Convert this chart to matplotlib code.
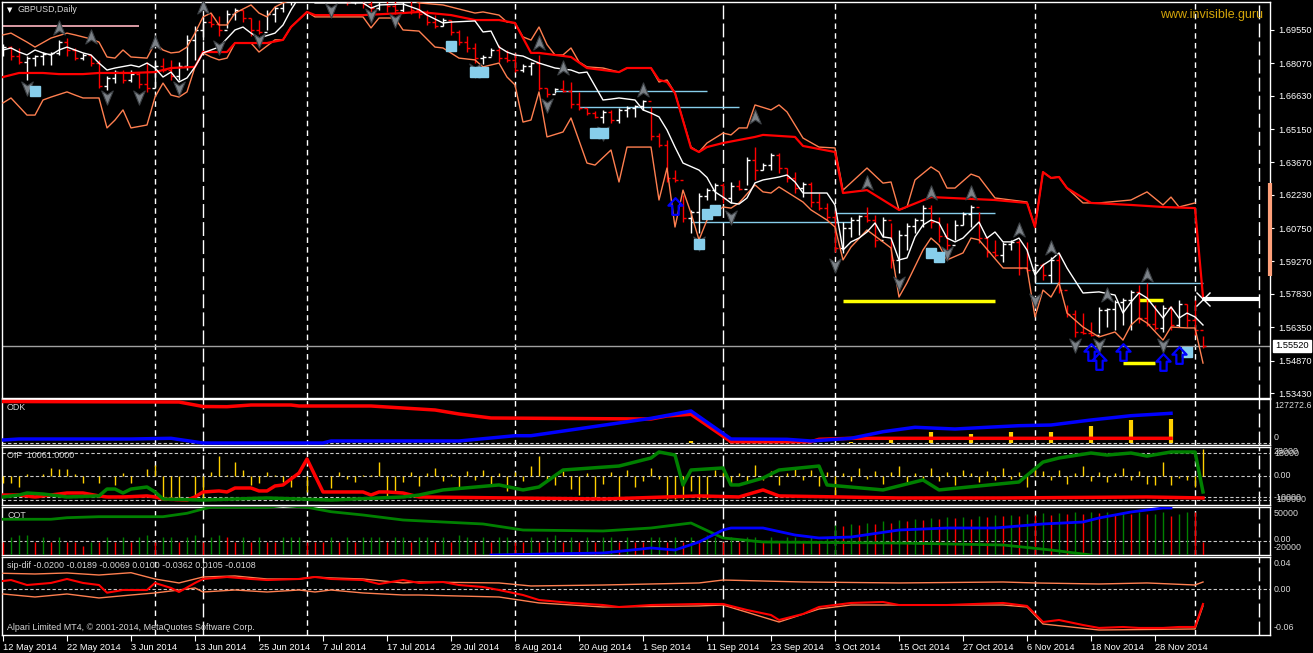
import numpy as np
import matplotlib
matplotlib.use('Agg')
import matplotlib.pyplot as plt
from matplotlib.path import Path

W, H = 1313, 653
plt.rcParams['font.family'] = ['Liberation Sans', 'DejaVu Sans']
FS = 6.4

# ---------------- data ----------------
dates = ['12 May 2014', '22 May 2014', '3 Jun 2014', '13 Jun 2014', '25 Jun 2014', '7 Jul 2014',
         '17 Jul 2014', '29 Jul 2014', '8 Aug 2014', '20 Aug 2014', '1 Sep 2014', '11 Sep 2014',
         '23 Sep 2014', '3 Oct 2014', '15 Oct 2014', '27 Oct 2014', '6 Nov 2014', '18 Nov 2014',
         '28 Nov 2014']
date_bars = [0, 8, 16, 24, 32, 40, 48, 56, 64, 72, 80, 88, 96, 104, 112, 120, 128, 136, 144]

price_ticks = [1.69550, 1.68070, 1.66630, 1.65150, 1.63670, 1.62230, 1.60750, 1.59270,
               1.57830, 1.56350, 1.54870, 1.53430]
bid = 1.55520

# daily bars (high / low / close), open taken as previous close
bar_hi = [1.6893, 1.6884, 1.6875, 1.6839, 1.6844, 1.6857, 1.6857, 1.6910, 1.6919, 1.6875,
          1.6853, 1.6844, 1.6822, 1.6751, 1.6777, 1.6777, 1.6777, 1.6768, 1.6813, 1.6822,
          1.6831, 1.6822, 1.6813, 1.6933, 1.6973, 1.7008, 1.7030, 1.7017, 1.7044, 1.7053,
          1.7044, 1.7008, 1.6999, 1.7044, 1.7061, 1.7110, 1.7155, 1.7168, 1.7199, 1.7186,
          1.7155, 1.7177, 1.7168, 1.7141, 1.7155, 1.7141, 1.7110, 1.7132, 1.7124, 1.7097,
          1.7110, 1.7101, 1.7079, 1.7044, 1.7021, 1.7008, 1.6999, 1.6955, 1.6928, 1.6897,
          1.6844, 1.6875, 1.6888, 1.6866, 1.6853, 1.6804, 1.6813, 1.6844, 1.6697, 1.6697,
          1.6733, 1.6724, 1.6680, 1.6609, 1.6595, 1.6600, 1.6600, 1.6609, 1.6617, 1.6622,
          1.6644, 1.6613, 1.6498, 1.6466, 1.6333, 1.6222, 1.6156, 1.6231, 1.6253, 1.6275,
          1.6275, 1.6280, 1.6289, 1.6391, 1.6435, 1.6364, 1.6409, 1.6409, 1.6342, 1.6324,
          1.6280, 1.6280, 1.6231, 1.6187, 1.6156, 1.6102, 1.6125, 1.6133, 1.6169, 1.6133,
          1.6125, 1.6098, 1.6067, 1.6098, 1.6120, 1.6178, 1.6178, 1.6125, 1.6098, 1.6111,
          1.6147, 1.6178, 1.6147, 1.6036, 1.6022, 1.6014, 1.6022, 1.6022, 1.6014, 1.5920,
          1.5920, 1.5947, 1.5965, 1.5734, 1.5712, 1.5698, 1.5658, 1.5725, 1.5720, 1.5756,
          1.5765, 1.5800, 1.5823, 1.5832, 1.5734, 1.5734, 1.5729, 1.5756, 1.5738, 1.5756,
          1.5596]
bar_lo = [1.6839, 1.6822, 1.6804, 1.6733, 1.6795, 1.6799, 1.6799, 1.6844, 1.6839, 1.6822,
          1.6822, 1.6795, 1.6697, 1.6688, 1.6719, 1.6719, 1.6724, 1.6697, 1.6680, 1.6697,
          1.6768, 1.6733, 1.6733, 1.6777, 1.6822, 1.6910, 1.6968, 1.6928, 1.6964, 1.6999,
          1.6990, 1.6928, 1.6937, 1.6955, 1.6990, 1.7035, 1.7066, 1.7097, 1.7110, 1.7110,
          1.7088, 1.7097, 1.7088, 1.7066, 1.7070, 1.7053, 1.7035, 1.7044, 1.7035, 1.7026,
          1.7035, 1.7026, 1.7008, 1.6977, 1.6964, 1.6973, 1.6933, 1.6888, 1.6857, 1.6808,
          1.6804, 1.6839, 1.6813, 1.6813, 1.6768, 1.6768, 1.6755, 1.6688, 1.6657, 1.6675,
          1.6680, 1.6609, 1.6600, 1.6577, 1.6564, 1.6542, 1.6542, 1.6542, 1.6569, 1.6569,
          1.6600, 1.6466, 1.6435, 1.6280, 1.6280, 1.6102, 1.6053, 1.6053, 1.6200, 1.6200,
          1.6187, 1.6187, 1.6244, 1.6267, 1.6289, 1.6333, 1.6333, 1.6320, 1.6280, 1.6231,
          1.6213, 1.6169, 1.6156, 1.6111, 1.5969, 1.5965, 1.6036, 1.6045, 1.6102, 1.5991,
          1.6036, 1.5898, 1.5876, 1.5978, 1.6053, 1.6080, 1.6076, 1.6014, 1.5978, 1.6022,
          1.6089, 1.6080, 1.6009, 1.5947, 1.5947, 1.5925, 1.5978, 1.5867, 1.5880, 1.5832,
          1.5845, 1.5832, 1.5787, 1.5681, 1.5592, 1.5605, 1.5596, 1.5610, 1.5636, 1.5623,
          1.5645, 1.5623, 1.5654, 1.5641, 1.5623, 1.5614, 1.5623, 1.5636, 1.5636, 1.5601,
          1.5543]
bar_cl = [1.6879, 1.6839, 1.6813, 1.6831, 1.6839, 1.6848, 1.6853, 1.6902, 1.6866, 1.6831,
          1.6844, 1.6808, 1.6706, 1.6741, 1.6768, 1.6733, 1.6759, 1.6715, 1.6697, 1.6795,
          1.6777, 1.6751, 1.6795, 1.6910, 1.6955, 1.6990, 1.6981, 1.6955, 1.7026, 1.7044,
          1.7008, 1.6955, 1.6946, 1.7026, 1.7053, 1.7097, 1.7132, 1.7110, 1.7177, 1.7132,
          1.7110, 1.7155, 1.7124, 1.7079, 1.7132, 1.7070, 1.7053, 1.7110, 1.7061, 1.7044,
          1.7088, 1.7044, 1.7026, 1.6990, 1.6973, 1.6999, 1.6946, 1.6902, 1.6875, 1.6831,
          1.6835, 1.6866, 1.6831, 1.6822, 1.6777, 1.6795, 1.6808, 1.6697, 1.6671, 1.6693,
          1.6684, 1.6626, 1.6609, 1.6586, 1.6569, 1.6591, 1.6555, 1.6600, 1.6609, 1.6617,
          1.6640, 1.6484, 1.6444, 1.6298, 1.6289, 1.6120, 1.6147, 1.6218, 1.6244, 1.6267,
          1.6209, 1.6262, 1.6249, 1.6378, 1.6333, 1.6355, 1.6400, 1.6342, 1.6298, 1.6253,
          1.6271, 1.6191, 1.6164, 1.6125, 1.5987, 1.6076, 1.6111, 1.6129, 1.6111, 1.6022,
          1.6111, 1.5934, 1.6045, 1.6085, 1.6111, 1.6164, 1.6102, 1.6040, 1.6000, 1.6089,
          1.6138, 1.6169, 1.6031, 1.5969, 1.5956, 1.6005, 1.6014, 1.5898, 1.5889, 1.5911,
          1.5867, 1.5934, 1.5800, 1.5694, 1.5614, 1.5610, 1.5601, 1.5712, 1.5716, 1.5747,
          1.5756, 1.5792, 1.5676, 1.5649, 1.5632, 1.5720, 1.5645, 1.5738, 1.5667, 1.5623,
          1.5552]

# white average line
mid_bar = [0, 1, 2, 3, 4, 5, 6, 7, 8, 10, 11, 12, 13, 14, 16, 17, 18, 19, 20, 21,
           22, 23, 24, 25, 26, 27, 29, 30, 31, 32, 34, 35, 36, 37, 38, 39, 45, 46, 47, 50,
           52, 53, 55, 56, 59, 60, 61, 62, 63, 64, 65, 67, 69, 71, 72, 73, 75, 76, 77, 79,
           80, 81, 82, 83, 84, 85, 87, 88, 89, 90, 91, 92, 93, 94, 95, 97, 98, 99, 100, 102,
           103, 104, 105, 106, 107, 108, 109, 110, 111, 112, 113, 114, 115, 116, 117, 118, 119, 120, 121, 122,
           123, 124, 125, 126, 127, 128, 129, 130, 131, 132, 133, 135, 137, 139, 140, 141, 142, 143, 145, 146,
           147, 148, 149, 150]
mid_val = [1.6866, 1.6875, 1.6857, 1.6844, 1.6866, 1.6853, 1.6844, 1.6866, 1.6879, 1.6853,
           1.6844, 1.6808, 1.6777, 1.6786, 1.6799, 1.6791, 1.6808, 1.6786, 1.6746, 1.6768,
           1.6724, 1.6742, 1.6791, 1.6853, 1.6866, 1.6879, 1.6955, 1.6968, 1.6941, 1.6919,
           1.6941, 1.6977, 1.7044, 1.7100, 1.7100, 1.7075, 1.7075, 1.7052, 1.7066, 1.7070,
           1.7045, 1.7021, 1.6986, 1.6990, 1.6995, 1.6946, 1.6950, 1.6879, 1.6857, 1.6844,
           1.6839, 1.6808, 1.6786, 1.6777, 1.6764, 1.6768, 1.6644, 1.6648, 1.6653, 1.6644,
           1.6600, 1.6586, 1.6569, 1.6511, 1.6435, 1.6364, 1.6333, 1.6300, 1.6236, 1.6213,
           1.6187, 1.6182, 1.6209, 1.6276, 1.6289, 1.6302, 1.6311, 1.6280, 1.6231, 1.6231,
           1.6231, 1.6178, 1.5978, 1.6014, 1.6031, 1.6058, 1.6098, 1.6036, 1.6031, 1.5934,
           1.5943, 1.6036, 1.6089, 1.6111, 1.6098, 1.6031, 1.6014, 1.6031, 1.6067, 1.6102,
           1.6031, 1.6058, 1.6014, 1.6014, 1.6031, 1.5978, 1.5867, 1.5911, 1.5934, 1.5965,
           1.5898, 1.5787, 1.5792, 1.5778, 1.5698, 1.5747, 1.5787, 1.5765, 1.5676, 1.5725,
           1.5676, 1.5698, 1.5681, 1.5645]

# orange upper envelope
up_bar = [0, 1, 3, 4, 6, 8, 9, 11, 12, 13, 14, 15, 16, 18, 19, 20, 21, 22, 23, 24,
          25, 26, 27, 28, 29, 31, 32, 33, 34, 35, 36, 37, 50, 52, 55, 56, 59, 60, 62, 63,
          64, 65, 66, 67, 68, 69, 70, 71, 72, 73, 75, 77, 78, 81, 82, 83, 84, 86, 87, 88,
          90, 91, 92, 93, 94, 96, 97, 98, 100, 102, 104, 105, 108, 110, 111, 112, 113, 114, 116, 117,
          118, 119, 121, 122, 124, 128, 129, 130, 131, 132, 133, 135, 137, 141, 143, 145, 146, 147, 149]
up_val = [1.6933, 1.6941, 1.6901, 1.6879, 1.6919, 1.6941, 1.6933, 1.6915, 1.6901, 1.6835,
          1.6830, 1.6866, 1.6835, 1.6830, 1.6897, 1.6866, 1.6853, 1.6857, 1.6879, 1.6941,
          1.7013, 1.7030, 1.6977, 1.6977, 1.7030, 1.7066, 1.7030, 1.7013, 1.7057, 1.7075,
          1.7088, 1.7120, 1.7110, 1.7075, 1.7066, 1.7057, 1.7030, 1.7035, 1.7021, 1.6990,
          1.6986, 1.6924, 1.6910, 1.6968, 1.6890, 1.6844, 1.6844, 1.6875, 1.6813, 1.6791,
          1.6786, 1.6768, 1.6786, 1.6786, 1.6724, 1.6733, 1.6675, 1.6435, 1.6413, 1.6453,
          1.6497, 1.6489, 1.6520, 1.6520, 1.6622, 1.6600, 1.6622, 1.6591, 1.6475, 1.6435,
          1.6431, 1.6244, 1.6342, 1.6275, 1.6280, 1.6156, 1.6169, 1.6289, 1.6347, 1.6324,
          1.6253, 1.6253, 1.6315, 1.6302, 1.6209, 1.6191, 1.6080, 1.6324, 1.6298, 1.6302,
          1.6253, 1.6187, 1.6187, 1.6200, 1.6236, 1.6178, 1.6213, 1.6169, 1.6187]

# red line
red_bar = [0, 2, 5, 7, 10, 12, 16, 19, 21, 24, 25, 28, 29, 31, 33, 35, 36, 38, 39, 45,
           50, 52, 56, 59, 62, 64, 66, 67, 69, 71, 73, 77, 78, 81, 82, 83, 84, 86, 87, 88,
           90, 94, 95, 99, 100, 104, 105, 108, 112, 116, 124, 128, 129, 130, 131, 132, 133, 136, 141, 145,
           149, 150]
red_val = [1.6746, 1.6764, 1.6764, 1.6759, 1.6759, 1.6764, 1.6764, 1.6768, 1.6786, 1.6791,
           1.6857, 1.6857, 1.6897, 1.6897, 1.6897, 1.6911, 1.6968, 1.7035, 1.7021, 1.7021,
           1.7030, 1.7035, 1.7021, 1.6999, 1.6999, 1.6986, 1.6853, 1.6853, 1.6844, 1.6835,
           1.6786, 1.6768, 1.6786, 1.6786, 1.6733, 1.6724, 1.6675, 1.6431, 1.6413, 1.6435,
           1.6453, 1.6480, 1.6489, 1.6480, 1.6440, 1.6413, 1.6231, 1.6244, 1.6156, 1.6213,
           1.6200, 1.6187, 1.6080, 1.6324, 1.6298, 1.6302, 1.6253, 1.6187, 1.6178, 1.6169,
           1.6164, 1.5770]

# orange lower envelope
lo_bar = [0, 1, 3, 4, 5, 6, 8, 9, 10, 12, 13, 14, 15, 16, 18, 19, 20, 21, 22, 23,
          24, 25, 26, 27, 28, 29, 31, 32, 34, 35, 36, 38, 39, 45, 46, 47, 49, 50, 52, 54,
          55, 57, 59, 60, 62, 63, 64, 65, 66, 67, 68, 70, 71, 73, 74, 76, 77, 78, 81, 82,
          83, 84, 85, 86, 87, 88, 90, 91, 92, 94, 95, 96, 97, 100, 101, 103, 104, 105, 106, 108,
          110, 111, 112, 113, 115, 116, 117, 118, 120, 121, 122, 125, 128, 129, 130, 131, 132, 133, 135, 137,
          139, 140, 141, 142, 143, 145, 146, 148, 149, 150]
lo_val = [1.6631, 1.6653, 1.6577, 1.6577, 1.6644, 1.6657, 1.6680, 1.6666, 1.6653, 1.6653,
          1.6520, 1.6555, 1.6600, 1.6520, 1.6533, 1.6657, 1.6719, 1.6666, 1.6657, 1.6680,
          1.6791, 1.6853, 1.6835, 1.6822, 1.6830, 1.6897, 1.6897, 1.6857, 1.6911, 1.6911,
          1.6968, 1.7035, 1.7013, 1.7013, 1.6964, 1.7008, 1.7008, 1.6955, 1.6950, 1.6879,
          1.6875, 1.6830, 1.6822, 1.6791, 1.6808, 1.6746, 1.6711, 1.6546, 1.6555, 1.6680,
          1.6480, 1.6502, 1.6564, 1.6364, 1.6355, 1.6422, 1.6280, 1.6435, 1.6435, 1.6200,
          1.6342, 1.6080, 1.6244, 1.6142, 1.6023, 1.6111, 1.6169, 1.6164, 1.6187, 1.6267,
          1.6236, 1.6231, 1.6258, 1.6191, 1.6156, 1.6111, 1.6080, 1.5934, 1.5991, 1.6067,
          1.6014, 1.5987, 1.5769, 1.5832, 1.5978, 1.6031, 1.6000, 1.5934, 1.5965, 1.6031,
          1.6023, 1.5898, 1.5898, 1.5681, 1.5800, 1.5769, 1.5832, 1.5698, 1.5636, 1.5592,
          1.5614, 1.5578, 1.5645, 1.5676, 1.5654, 1.5578, 1.5636, 1.5632, 1.5632, 1.5476]

# signal markers
arr_up_bar = [7, 11, 19, 25, 67, 70, 80, 94, 108, 116, 121, 127, 131, 138, 143]
arr_up_val = [1.6964, 1.6924, 1.6897, 1.7057, 1.6897, 1.6786, 1.6688, 1.6569, 1.6275, 1.6231,
              1.6231, 1.6067, 1.5987, 1.5778, 1.5867]
arr_dn_bar = [3, 13, 17, 22, 27, 32, 41, 46, 49, 59, 68, 75, 87, 91, 104, 112, 118, 129, 134, 137, 145]
arr_dn_val = [1.6697, 1.6657, 1.6657, 1.6697, 1.6879, 1.6911, 1.7044, 1.7021, 1.6999, 1.6777,
              1.6622, 1.6497, 1.6009, 1.6125, 1.5911, 1.5832, 1.5965, 1.5756, 1.5556, 1.5556, 1.5556]
sq_bar = [4, 56, 59, 60, 74, 75, 87, 88, 89, 116, 117, 148]
sq_val = [1.6684, 1.6884, 1.6768, 1.6768, 1.6497, 1.6497, 1.6003, 1.6138, 1.6156, 1.5965, 1.5947, 1.5523]
blue_bar = [84, 136, 137, 140, 145, 147]
blue_val = [1.6173, 1.5525, 1.5485, 1.5525, 1.5481, 1.5512]

# horizontal levels: (start bar, end bar, price)
lb_levels = [(69, 88, 1.6684), (72, 92, 1.6613), (86, 106, 1.6102), (104, 124, 1.6142), (129, 150, 1.5832)]
yel_levels = [(105, 124, 1.5752), (142, 145, 1.5756), (140, 144, 1.5476)]
pink_level = (0, 17, 1.6973)
white_level = (150, 157, 1.5760)
range_hi, range_lo = 1.6276, 1.5861

sep_short = [19, 38, 64, 104, 129, 149]
sep_long = [25, 90, 157]

# ODK
odk_red_bar = [0, 22, 25, 28, 31, 36, 37, 46, 50, 54, 57, 61, 81, 83, 86, 91, 101, 102, 106, 146]
odk_red_val = [125700, 124200, 110600, 110000, 115100, 115100, 112100, 112100, 106000, 100000,
               87900, 75750, 72700, 81800, 87000, 3900, 3900, 11200, 14200, 14200]
odk_blu_bar = [0, 2, 16, 21, 25, 40, 41, 57, 64, 66, 81, 86, 91, 98, 101, 106, 110, 114, 119, 123,
               127, 131, 136, 141, 146]
odk_blu_val = [9090, 12100, 12100, 14200, 0, 0, 6060, 6060, 22100, 22100, 74800, 97000, 12100, 11200,
               6060, 14200, 34200, 47600, 42400, 47600, 52400, 54500, 69700, 82700, 90000]
odk_yel_bar = [6, 11, 31, 41, 51, 61, 66, 86, 91, 96, 106, 111, 116, 121, 126, 131, 136, 141, 146]
odk_yel_val = [1500, 1500, 1500, 1500, 1500, 1500, 1500, 6000, 6000, 4000, 4000, 19100, 34200,
               27300, 34200, 34200, 51500, 69700, 72700]

# OIF
oif_hist = [-5700, -5200, -8400, 1560, 0, 1560, 6500, 5200, 5200, 1560,
            -5200, 0, -5200, 0, -7000, 2100, -5200, 0, 5200, 8600,
            -18800, -18800, -18800, 0, -18800, -18800, 3400, 15600, 800, 11200,
            4700, -7000, -5700, 3400, 800, -4400, -8400, 0, -12300, 800,
            0, -9600, 3400, -2600, -4400, 800, 800, 11200, -16200, -12300,
            -5000, 3000, -8000, 2000, 6000, -4000, 1500, -9000, 4000, -3000,
            5000, -6000, 2000, -12000, 3000, -4000, 8000, 16000, -3000, -7000,
            4000, -10000, -15000, 2000, -18000, -6000, 3000, -18000, 5000, -9000,
            -4000, 6000, -2000, -18000, -18000, -18000, -12000, -18000, -18000, 5000,
            3000, -6000, 2000, -5000, 9000, -3000, 4000, -7000, 2000, 6000,
            -3000, 5000, -8000, 3000, -15000, 2000, -4000, 6000, -2000, 4000,
            -6000, 3000, 8000, -5000, 2000, -3000, 6000, -4000, 3000, -7000,
            5000, 2000, -5000, 4000, -3000, 6000, -2000, 3000, -9000, 7000,
            4000, -3000, 5000, -6000, 2000, 8000, -4000, 3000, -5000, 2000,
            6000, -3000, 4000, -6000, -7000, 11200, -7000, -1600, -3100, -8600,
            21100]
oif_red_bar = [0, 2, 4, 8, 10, 12, 13, 15, 18, 19, 20, 23, 24, 25, 27, 28, 29, 31, 32, 33,
               34, 35, 37, 38, 40, 45, 46, 47, 48, 50, 52, 75, 87, 92, 95, 97, 112, 125, 143, 150]
oif_red_val = [-14900, -14900, -16400, -13300, -13300, -15600, -16400, -16400, -15600, -16400,
               -18000, -18800, -16400, -12500, -11700, -12500, -9400, -9400, -11700, -11700,
               -7800, -7000, 2300, 13300, -12500, -12500, -14900, -12500, -12500, -13300,
               -16400, -18000, -15600, -16400, -10900, -15600, -17200, -17200, -16400, -17200]
oif_grn_bar = [0, 2, 3, 5, 8, 12, 13, 14, 15, 16, 18, 19, 20, 25, 33, 41, 50, 52, 55, 62,
               65, 67, 70, 77, 81, 82, 84, 85, 86, 90, 91, 92, 95, 97, 102, 103, 110, 115, 117, 127,
               130, 132, 136, 138, 141, 143, 146, 149, 150]
oif_grn_val = [-16400, -14900, -13300, -14100, -16400, -15600, -10200, -10200, -13300, -10200,
               -8600, -12500, -18000, -18800, -17200, -18800, -16400, -14900, -10900, -7000,
               -10900, -8600, 4700, 7800, 14100, 18800, 16400, -7000, 4700, 6300,
               -7000, -7000, -1600, 4700, 7800, -7000, -10900, -3100, -10900, -4700,
               10900, 14100, 18000, 16400, 18000, 15600, 18800, 18800, -12500]

# COT
cot_hist = [-1200, 7700, 10700, 10700, -1200, 7700, -1200, 7700, -1200, -1200,
            -8900, -1200, -1200, 7700, -1200, 7700, -1200, 7700, 10700, -1200,
            7700, 7700, -1200, 7700, 11300, -1200, 7700, 10700, 6500, -1200,
            7700, -1200, 7700, -1200, -1200, 7700, 6500, 6500, -1200, -1200,
            -1200, 7700, -1200, 6500, -1200, 7700, 7700, 6500, -1200, 6500,
            7700, -1200, 7700, 6500, -1200, 7700, -1200, 10700, 7700, -1200,
            7700, -1200, 6500, 7700, -1200, -1200, 7700, -1200, 7700, 10700,
            -1200, 7700, -1200, 7700, -1200, 6500, 7700, -1200, 7700, -1200,
            -1200, 7700, 6500, -1200, 7700, -1200, 7700, -1200, 10700, 7700,
            -1200, 7700, -1200, 6500, 7700, -1200, 7700, -1200, 7700, 6500,
            -1200, 7700, -1200, 7700, 28600, 26000, 30400, 28000, 32100, 30000,
            35700, 33000, 37500, 35000, 39300, 37000, 41100, 39000, 42900, 41000,
            42900, 40000, 44600, 42000, 46400, 44000, 46400, 45000, 48200, 46000,
            50000, 47000, 50000, 48000, 51800, 49000, 51800, 50000, 51800, 49000,
            50000, 48200, 51800, 48000, 48200, 51800, 44600, 48200, 51800, 51800,
            -1200]
cot_col = ('rgggrgrgrrrgrgrgrggrggrggrggrrgrgrrgggrrrgrgrgggrg'
           'grggrgrggrgrggrrgrggrgrgrggrgrrggrgrgrggrgrggrgrggrgrg'
           'grgrgrgrgrgrgrgrgrgrgrgrgrgrgrgrgrgrgrgrggrggrr')
cot_grn_bar = [0, 6, 8, 12, 20, 23, 25, 26, 33, 35, 38, 41, 45, 50, 55, 60, 65, 75, 81, 86,
               90, 95, 112, 125, 131, 136]
cot_grn_val = [38800, 38800, 41600, 43400, 43400, 49500, 57200, 60200, 60200, 63000,
               60200, 52300, 46400, 37500, 33900, 30400, 19600, 17900, 23200, 32100,
               5400, -1800, -3600, -7100, -16100, -25000]
cot_blu_bar = [61, 75, 81, 84, 87, 90, 91, 95, 99, 102, 106, 112, 118, 124, 130, 135, 137, 141, 145, 146]
cot_blu_val = [-25000, -21400, -12500, -16100, -1800, 19600, 23200, 23200, 10700, 5400,
               7100, 19600, 23200, 23200, 30400, 33900, 41100, 51800, 58900, 58900]

# sip-dif
sip_a_bar = [0, 4, 8, 12, 16, 19, 22, 25, 29, 33, 37, 39, 41, 45, 50, 52, 62, 66, 75, 87,
             90, 100, 112, 125, 129, 137, 143, 149, 150]
sip_a_val = [0.0245, 0.0234, 0.0250, 0.0218, 0.0254, 0.0156, 0.0094, 0.0187, 0.0203, 0.0156,
             0.0156, 0.0187, 0.0172, 0.0156, 0.0094, 0.0109, 0.0094, 0.0047, 0.0062, 0.0094,
             0.0140, 0.0109, 0.0094, 0.0109, 0.0094, 0.0078, 0.0094, 0.0062, 0.0109]
sip_b_bar = [0, 1, 3, 6, 8, 10, 12, 13, 15, 18, 19, 21, 22, 24, 25, 28, 31, 33, 37, 39,
             41, 45, 47, 50, 52, 55, 57, 60, 62, 65, 67, 71, 75, 77, 81, 87, 90, 93, 96, 97,
             100, 102, 106, 110, 112, 118, 125, 128, 130, 132, 135, 137, 140, 142, 145, 147, 149, 150]
sip_b_val = [0.0125, 0.0140, 0.0062, 0.0094, 0.0156, 0.0094, 0.0062, -0.0058, -0.0016, -0.0016,
             0.0094, 0.0016, -0.0047, 0.0094, 0.0156, 0.0187, 0.0156, 0.0140, 0.0156, 0.0187,
             0.0156, 0.0140, 0.0078, 0.0140, 0.0094, 0.0109, 0.0062, 0.0031, -0.0016, -0.0094,
             -0.0172, -0.0218, -0.0250, -0.0281, -0.0250, -0.0234, -0.0234, -0.0328, -0.0406, -0.0484,
             -0.0390, -0.0281, -0.0218, -0.0203, -0.0250, -0.0250, -0.0218, -0.0265, -0.0515, -0.0484,
             -0.0562, -0.0608, -0.0593, -0.0608, -0.0608, -0.0593, -0.0593, -0.0234]
sip_c_bar = [0, 4, 8, 12, 16, 19, 22, 24, 25, 29, 33, 37, 39, 41, 45, 50, 52, 62, 67, 75,
             87, 90, 97, 102, 106, 125, 128, 130, 137, 149, 150]
sip_c_val = [-0.0078, -0.0125, -0.0078, -0.0140, -0.0094, -0.0062, -0.0016, 0.0016, -0.0047, -0.0016,
             -0.0047, -0.0016, -0.0047, -0.0016, -0.0062, -0.0094, -0.0094, -0.0125, -0.0218, -0.0281,
             -0.0265, -0.0250, -0.0515, -0.0312, -0.0250, -0.0250, -0.0281, -0.0546, -0.0640, -0.0624,
             -0.0265]

# ---------------- drawing ----------------
ORANGE = '#FF7F50'
GRID = '#C8C8C8'
TXT = '#D8D8D8'

fig = plt.figure(figsize=(W / 100, H / 100), dpi=100, facecolor='black')


def panel(top, bottom, left=2, right=1270):
    ax = fig.add_axes([left / W, 1 - bottom / H, (right - left) / W, (bottom - top) / H])
    ax.set_facecolor('black')
    for s in ax.spines.values():
        s.set_color('white')
        s.set_linewidth(1)
    ax.set_xlim(-0.125, 158.375)
    ax.set_xticks([])
    ax.set_yticks([])
    for b in sep_short:
        ax.axvline(b, color='white', lw=1, dashes=(4, 3), zorder=1)
    for b in sep_long:
        ax.axvline(b, color='white', lw=1, dashes=(10, 3), zorder=1)
    return ax


def ftext(x, y, s, **kw):
    kw.setdefault('fontsize', FS)
    kw.setdefault('color', TXT)
    fig.text(x / W, 1 - y / H, s, va='center', **kw)


def mline(ax, bars, vals, **kw):
    n = min(len(bars), len(vals))
    ax.plot(bars[:n], vals[:n], **kw)


# main price panel
ax = panel(2, 398)
ax.set_ylim(1.53209, 1.70791)
ax.yaxis.tick_right()
ax.set_yticks(price_ticks)
ax.set_yticklabels([f'{p:.5f}' for p in price_ticks])
ax.tick_params(axis='y', colors='white', labelsize=FS + 0.3, length=3, pad=3)

ax.axhline(bid, color='#A0A0A0', lw=1, zorder=2)
ax.hlines(pink_level[2], pink_level[0], pink_level[1], color='#FFB6C1', lw=1.2)
for b0, b1, p in lb_levels:
    ax.hlines(p, b0, b1, color='#87CEEB', lw=1, zorder=2)
for b0, b1, p in yel_levels:
    ax.hlines(p, b0, b1, color='#FFFF00', lw=2.5, zorder=3)

n = min(len(bar_hi), len(bar_lo), len(bar_cl))
bars = np.arange(n)
hi = np.array(bar_hi[:n]); lo = np.array(bar_lo[:n]); cl = np.array(bar_cl[:n])
op = np.concatenate([[cl[0]], cl[:-1]])
cols = np.where(cl >= op, 'white', '#FF0000')
ax.vlines(bars, lo, hi, colors=cols, lw=1, zorder=3)
ax.hlines(op, bars - 0.4, bars, colors=cols, lw=1, zorder=3)
ax.hlines(cl, bars, bars + 0.4, colors=cols, lw=1, zorder=3)

mline(ax, up_bar, up_val, color=ORANGE, lw=1, zorder=4)
mline(ax, lo_bar, lo_val, color=ORANGE, lw=1, zorder=4)
mline(ax, red_bar, red_val, color='#FF0000', lw=1.6, zorder=4)
mline(ax, mid_bar, mid_val, color='white', lw=1, zorder=5)

ax.hlines(white_level[2], white_level[0], white_level[1], color='white', lw=3, zorder=5)
ax.plot(white_level[0], white_level[2], marker='x', color='white', ms=10, mew=1, zorder=6)

up_path = Path([(0, 1), (0.75, -0.85), (0, -0.35), (-0.75, -0.85), (0, 1)],
               [Path.MOVETO, Path.LINETO, Path.LINETO, Path.LINETO, Path.CLOSEPOLY])
dn_path = Path([(0, -1), (0.75, 0.85), (0, 0.35), (-0.75, 0.85), (0, -1)],
               [Path.MOVETO, Path.LINETO, Path.LINETO, Path.LINETO, Path.CLOSEPOLY])
blue_path = Path([(0, 1), (0.85, 0.1), (0.38, 0.1), (0.38, -1), (-0.38, -1), (-0.38, 0.1), (-0.85, 0.1), (0, 1)],
                 [Path.MOVETO] + [Path.LINETO] * 6 + [Path.CLOSEPOLY])
ax.plot(arr_up_bar, arr_up_val, ls='none', marker=up_path, ms=11, mfc='#7C8288', mec='#3C4044', mew=0.8, zorder=7)
ax.plot(arr_dn_bar, arr_dn_val, ls='none', marker=dn_path, ms=11, mfc='#7C8288', mec='#3C4044', mew=0.8, zorder=7)
ax.plot(sq_bar, sq_val, ls='none', marker='s', ms=7, mfc='#87CEEB', mec='#87CEEB', zorder=7)
ax.plot(blue_bar, blue_val, ls='none', marker=blue_path, ms=12, mfc='none', mec='#0000FF', mew=1.6, zorder=7)
ax.plot([158.375, 158.375], [range_lo, range_hi], color='#FFA07A', lw=3, clip_on=False,
        solid_capstyle='butt', zorder=8)

ax.text(1.004, bid, f'{bid:.5f}', transform=ax.get_yaxis_transform(), color='black', fontsize=FS + 0.3,
        va='center', ha='left', bbox=dict(boxstyle='square,pad=0.2', fc='white', ec='white'))

ftext(7, 10, '\u25bc', color='white', fontsize=5, family='DejaVu Sans')
ftext(18, 10, 'GBPUSD,Daily')
ftext(1160, 15, 'www.invisible.guru', color='#D4A50A', fontsize=9)

# ODK panel
ax1 = panel(399, 445)
ax1.set_ylim(-6060, 133300)
ax1.axhline(0, color=GRID, lw=0.8, dashes=(3, 2))
ax1.vlines(odk_yel_bar, 0, odk_yel_val, color='#FFD000', lw=3, zorder=3)
mline(ax1, odk_red_bar, odk_red_val, color='#FF0000', lw=2.5, zorder=4)
mline(ax1, odk_blu_bar, odk_blu_val, color='#0000FF', lw=2.5, zorder=5)
ftext(7, 408, 'ODK')
ftext(1274, 405, '127272.6')
ftext(1274, 438, '0')

# OIF panel
ax2 = panel(447, 505)
ax2.set_ylim(-22700, 22700)
for lv in (18000, 0, -16400, -18800):
    ax2.axhline(lv, color=GRID, lw=0.8, dashes=(3, 2))
ax2.vlines(np.arange(len(oif_hist)), 0, oif_hist, color='#FFD000', lw=1, zorder=3)
mline(ax2, oif_red_bar, oif_red_val, color='#FF0000', lw=2.5, zorder=4)
mline(ax2, oif_grn_bar, oif_grn_val, color='#008000', lw=2.5, zorder=5)
ftext(7, 456, 'OIF  10061.0000')
ftext(1274, 451, '28000')
ftext(1274, 453, '18000')
ftext(1274, 476, '0.00')
ftext(1274, 497, '-10000')
ftext(1276, 499, '100000')

# COT panel
ax3 = panel(507, 555)
ax3.set_ylim(-25000, 60700)
ax3.axhline(0, color=GRID, lw=0.8, dashes=(3, 2))
nc = min(len(cot_hist), len(cot_col))
ax3.vlines(np.arange(nc), -25000, cot_hist[:nc],
           colors=['#008000' if c == 'g' else '#FF0000' for c in cot_col[:nc]], lw=1, zorder=3)
mline(ax3, cot_grn_bar, cot_grn_val, color='#008000', lw=2, zorder=4)
mline(ax3, cot_blu_bar, cot_blu_val, color='#0000FF', lw=2, zorder=5)
ftext(7, 516, 'COT')
ftext(1274, 513, '50000')
ftext(1274, 540, '0.00')
ftext(1274, 548, '-20000')

# sip-dif panel
ax4 = panel(557, 635)
ax4.set_ylim(-0.0718, 0.0499)
ax4.axhline(0, color=GRID, lw=0.8, dashes=(3, 2))
mline(ax4, sip_a_bar, sip_a_val, color=ORANGE, lw=1, zorder=4)
mline(ax4, sip_c_bar, sip_c_val, color=ORANGE, lw=1, zorder=4)
mline(ax4, sip_b_bar, sip_b_val, color='#FF0000', lw=1.5, zorder=5)
ftext(7, 566, 'sip-dif -0.0200 -0.0189 -0.0069 0.0100 -0.0362 0.0105 -0.0108')
ftext(7, 628, 'Alpari Limited MT4, \u00a9 2001-2014, MetaQuotes Software Corp.')
ftext(1274, 564, '0.04')
ftext(1274, 589, '0.00')
ftext(1274, 628, '-0.06')

ax4.set_xticks(date_bars)
ax4.set_xticklabels(dates, ha='left')
ax4.tick_params(axis='x', colors='white', labelsize=FS + 0.3, length=4, pad=2)

fig.savefig('out.png', dpi=100, facecolor='black')
